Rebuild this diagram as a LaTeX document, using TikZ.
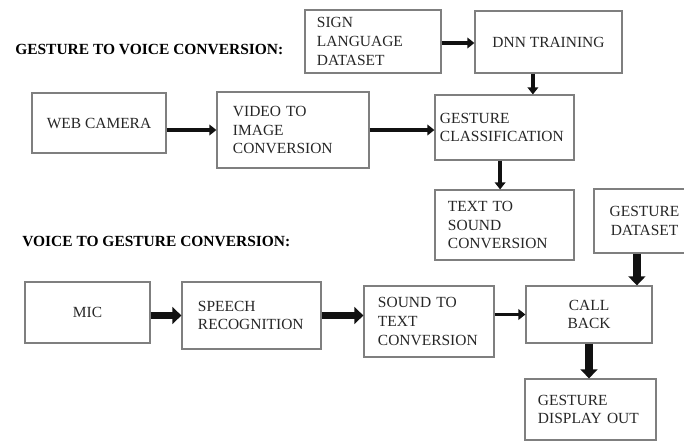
\documentclass[tikz,border=0pt]{standalone}
\usepackage{fontspec}
\setmainfont{Liberation Serif}
\usetikzlibrary{arrows.meta}
\definecolor{boxgray}{HTML}{7F7F7F}
\definecolor{txtgray}{HTML}{262626}
\definecolor{arrblack}{HTML}{111111}
\tikzset{
  box/.style={draw=boxgray,line width=0.8pt,text=txtgray,
    font=\fontsize{11}{13.2}\selectfont,inner ysep=0pt},
  lbox/.style n args={3}{box,align=left,text width=#1,inner xsep=#2,minimum height=#3},
  cbox/.style 2 args={box,align=center,inner xsep=0pt,minimum width=#1,minimum height=#2}
}

\begin{document}
\begin{tikzpicture}[x=0.025cm,y=-0.025cm,
            arr/.style={arrblack,line width=2.3pt,-{Triangle[length=5pt,width=7.5pt]}},
            tarr/.style={arrblack,line width=5.5pt,-{Triangle[length=6.5pt,width=12pt]}},
            ttl/.style={anchor=west,inner sep=0pt,font=\bfseries\fontsize{11}{13}\selectfont}]

            \path[use as bounding box,clip] (0,0) rectangle (684,442);

            % gesture to voice
            \node[ttl] (t1) at (15,49) {GESTURE TO VOICE CONVERSION:};
            \node[lbox={2.8cm}{0.3cm}{1.575cm}] (sign) at (373,41.5) {SIGN\\LANGUAGE\\DATASET};
            \node[cbox={3.675cm}{1.55cm}] (dnn) at (548.5,42) {DNN TRAINING};
            \node[cbox={3.35cm}{1.5cm}] (web) at (99,123) {WEB CAMERA};
            \node[lbox={3.0cm}{0.4cm}{1.9cm}] (video) at (293,130) {VIDEO TO\\IMAGE\\CONVERSION};
            \node[lbox={3.225cm}{0.125cm}{1.625cm}] (gc) at (504.5,127.5) {GESTURE\\CLASSIFICATION};
            \node[lbox={2.825cm}{0.325cm}{1.75cm}] (tts) at (504.5,225) {TEXT TO\\SOUND\\CONVERSION};

            \draw[arr] (sign.east |- 0,43) -- (dnn.west |- 0,43);
            \draw[arr] ([xshift=-0.39cm]dnn.south) -- ([xshift=-0.39cm]dnn.south |- gc.north);
            \draw[arr] (web.east |- video.west) -- (video.west);
            \draw[arr] (video.east) -- (video.east -| gc.west);
            \draw[arr] ([xshift=-0.11cm]gc.south) -- ([xshift=-0.11cm]gc.south |- tts.north);

            % voice to gesture
            \node[ttl] (t2) at (22,241.5) {VOICE TO GESTURE CONVERSION:};
            \node[cbox={2.525cm}{1.6cm}] (gds) at (644.5,221) {GESTURE\\DATASET};
            \node[cbox={3.125cm}{1.525cm}] (mic) at (87.5,312.5) {MIC};
            \node[lbox={2.675cm}{0.4cm}{1.675cm}] (speech) at (251.5,315.5) {SPEECH\\RECOGNITION};
            \node[lbox={2.55cm}{0.35cm}{1.775cm}] (stt) at (429,321.5) {SOUND TO\\TEXT\\CONVERSION};
            \node[cbox={3.15cm}{1.425cm}] (cb) at (589,314.5) {CALL\\BACK};
            \node[lbox={2.625cm}{0.325cm}{1.525cm}] (gdo) at (590.5,409.5) {GESTURE\\DISPLAY OUT};

            \draw[tarr] (mic.east |- speech.west) -- (speech.west);
            \draw[tarr] (speech.east) -- (speech.east -| stt.west);
            \draw[arr] (stt.east |- cb.west) -- (cb.west);
            \draw[tarr] ([xshift=-0.19cm]gds.south) -- ([xshift=-0.19cm]gds.south |- cb.north);
            \draw[tarr] (cb.south) -- (cb.south |- gdo.north);
        \end{tikzpicture}
\end{document}
